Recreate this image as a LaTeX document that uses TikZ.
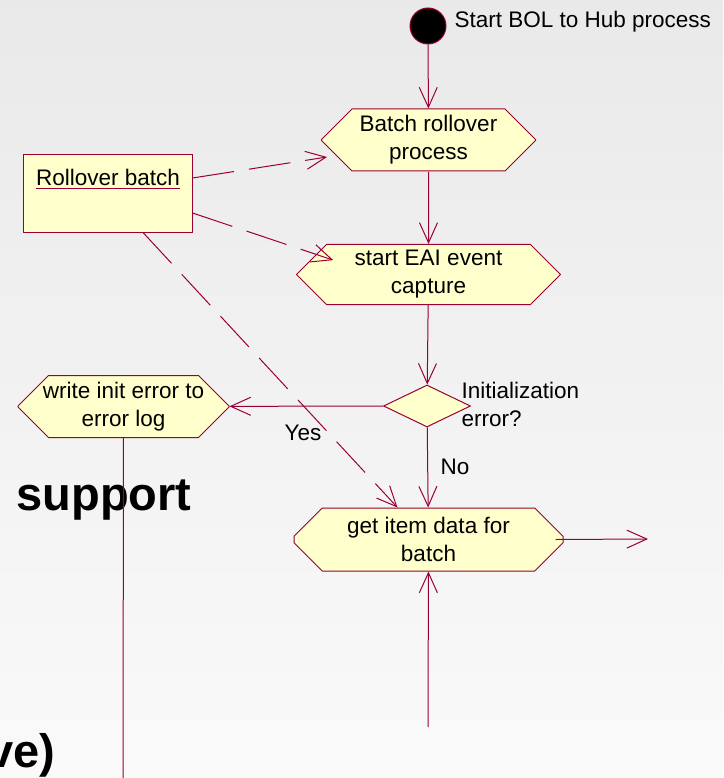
\documentclass[tikz,border=0pt]{standalone}
\usepackage{fontspec}
\setmainfont{Liberation Sans}
\usetikzlibrary{shapes.misc,shapes.geometric,arrows.meta,calc}
\definecolor{roseline}{RGB}{153,0,51}
\definecolor{rosefill}{RGB}{255,255,204}
\tikzset{
  activity/.style={chamfered rectangle, chamfered rectangle xsep=24pt, chamfered rectangle ysep=20pt, draw=roseline, fill=rosefill, align=center, inner xsep=0pt, inner ysep=-14pt},
  flow/.style={draw=roseline, -{Straight Barb[length=20pt,width=18pt]}},
  depend/.style={flow, dash pattern=on 42pt off 15pt},
}
\begin{document}
\begin{tikzpicture}[x=1pt, y=-1pt, font=\fontsize{22.5}{28}\selectfont, line width=1pt]
			\useasboundingbox (0,0) rectangle (723,778);
			\clip (0,0) rectangle (723,778);
			\shade[top color=gray!17, bottom color=gray!4] (0,0) rectangle (723,778);
			\node[font=\bfseries\fontsize{47}{50}\selectfont, anchor=base west, inner sep=0pt] (support) at (16,510) {support};
			\node[font=\bfseries\fontsize{47}{50}\selectfont, anchor=base west, inner sep=0pt] (active) at (-13,767) {ve)};
			
			\node[circle, draw=roseline, fill=black, minimum size=36pt, inner sep=0pt] (start) at (428,26) {};
			\node[anchor=west, inner sep=0pt] (startlabel) at (454,22) {Start BOL to Hub process};
			\node[activity, minimum width=214pt, minimum height=62pt] (batch) at (428.5,140) {Batch rollover\\process};
			\node[activity, minimum width=264pt, minimum height=57pt] (eai) at (428.5,274.5) {start EAI event\\capture};
			\node[diamond, draw=roseline, fill=rosefill, minimum width=87pt, minimum height=42pt, inner sep=0pt] (init) at (427,406) {};
			\node[anchor=west, align=left, inner sep=0pt] (initlabel) at (461,404.5) {Initialization\\error?};
			\node[activity, minimum width=211pt, minimum height=62pt] (errlog) at (123.5,406.5) {write init error to\\error log};
			\node[activity, minimum width=269pt, minimum height=63pt] (getitem) at (428.5,539.5) {get item data for\\batch};
			\node[draw=roseline, fill=rosefill, minimum width=169pt, minimum height=77pt] (rollover) at (107.5,193.5) {};
			\node[inner sep=0pt] (rollovername) at (108,177) {Rollover batch};
			\draw[roseline] ([yshift=-3pt]rollovername.south west) -- ([yshift=-3pt]rollovername.south east);
			\node[inner sep=0pt] (yes) at (303,433) {Yes};
			\node[inner sep=0pt] (no) at (455,467) {No};
			\coordinate (out) at (648,539);
			\coordinate (feed) at (428,727);
			\coordinate (lifeline) at (123,778);
			
			\path (start) edge[flow] (batch);
			\path (batch) edge[flow] (eai);
			\path (eai) edge[flow] (init);
			\path (init) edge[flow] (errlog);
			\path (init) edge[flow] (getitem);
			\path ([xshift=-8pt]getitem.east) edge[flow] (out);
			\path (feed) edge[flow] (getitem);
			\path (errlog) edge[draw=roseline] (lifeline);
			\path ([yshift=15.5pt]rollover.east) edge[depend] ($(batch.west)+(6,17)$);
			\path ([yshift=-19.5pt]rollover.east) edge[depend] ($(eai.north west)+(22,1)$);
			\path ([xshift=35.5pt]rollover.south) edge[depend] ($(getitem.north)+(-31,0)$);
			\end{tikzpicture}
\end{document}
